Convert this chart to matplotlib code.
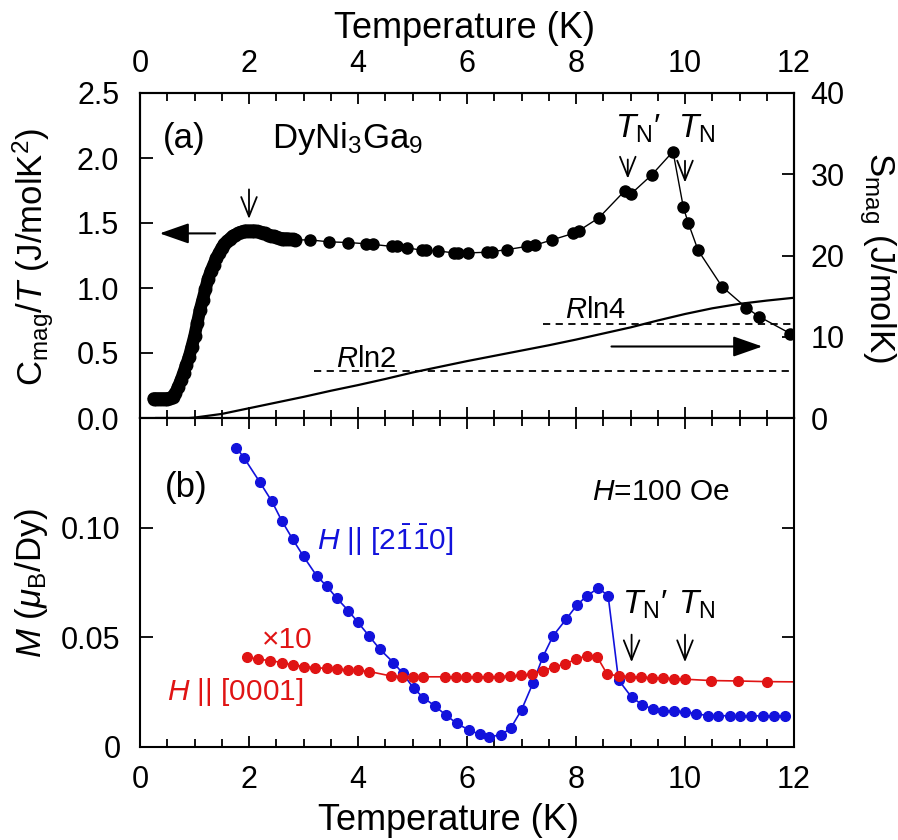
import matplotlib
matplotlib.use("Agg")
import matplotlib.pyplot as plt
import numpy as np

plt.rcParams['font.family'] = ['Liberation Sans', 'DejaVu Sans']
plt.rcParams['mathtext.fontset'] = 'custom'
plt.rcParams['mathtext.rm'] = 'Liberation Sans'
plt.rcParams['mathtext.it'] = 'Liberation Sans:italic'
plt.rcParams['mathtext.bf'] = 'Liberation Sans:bold'

# (a) C_mag/T, dense low-T part
t_dense = [0.25, 0.30, 0.35, 0.40, 0.45, 0.50, 0.55, 0.60, 0.65, 0.70, 0.75, 0.80,
           0.85, 0.90, 0.95, 1.00, 1.05, 1.10, 1.15, 1.20, 1.25, 1.30, 1.35, 1.40,
           1.45, 1.50, 1.55, 1.60, 1.65, 1.70, 1.75, 1.80, 1.85, 1.90, 1.95, 2.00,
           2.05, 2.10, 2.15, 2.20, 2.25, 2.30, 2.35, 2.40, 2.45, 2.50, 2.55, 2.60,
           2.65, 2.70, 2.75, 2.80, 2.85]
c_dense = [0.15, 0.15, 0.15, 0.15, 0.15, 0.15, 0.155, 0.165, 0.19, 0.24, 0.29, 0.35,
           0.41, 0.47, 0.55, 0.63, 0.73, 0.83, 0.91, 0.99, 1.07, 1.13, 1.18, 1.23,
           1.27, 1.31, 1.34, 1.36, 1.38, 1.40, 1.41, 1.42, 1.43, 1.435, 1.44, 1.44,
           1.44, 1.44, 1.435, 1.43, 1.425, 1.42, 1.41, 1.40, 1.40, 1.39, 1.385, 1.38,
           1.38, 1.38, 1.375, 1.375, 1.37]

# (a) C_mag/T, sparse part
t_sparse = [2.85, 3.12, 3.47, 3.82, 4.15, 4.28, 4.62, 4.72, 4.90, 5.17, 5.24, 5.47,
            5.76, 5.84, 6.02, 6.36, 6.46, 6.73, 7.10, 7.25, 7.56, 7.95, 8.05, 8.42,
            8.90, 9.00, 9.39, 9.78, 9.97, 10.06, 10.24, 10.68, 11.12, 11.36, 11.93]
c_sparse = [1.37, 1.37, 1.355, 1.35, 1.34, 1.335, 1.32, 1.32, 1.31, 1.29, 1.29, 1.285,
            1.27, 1.27, 1.27, 1.275, 1.28, 1.295, 1.32, 1.33, 1.37, 1.42, 1.44, 1.54,
            1.75, 1.72, 1.87, 2.05, 1.62, 1.50, 1.29, 1.01, 0.85, 0.78, 0.65]

# (a) S_mag
t_s = [0.3, 0.9, 1.0, 1.5, 2.0, 2.5, 3.0, 3.5, 4.0, 4.5, 5.0, 5.5, 6.0, 6.5, 7.0,
       7.5, 8.0, 8.5, 9.0, 9.5, 10.0, 10.5, 11.0, 11.5, 12.0]
s_mag = [0.0, 0.0, 0.05, 0.5, 1.2, 1.9, 2.6, 3.35, 4.05, 4.8, 5.6, 6.3, 7.0, 7.65,
         8.3, 8.95, 9.65, 10.4, 11.15, 12.0, 12.8, 13.5, 14.05, 14.45, 14.8]
R = 8.314

# (b) M, H || [2-1-10]
t_a = [1.77, 1.91, 2.20, 2.42, 2.60, 2.80, 3.00, 3.24, 3.43, 3.61, 3.82, 4.00, 4.21,
       4.40, 4.65, 4.82, 5.02, 5.20, 5.41, 5.61, 5.81, 6.03, 6.23, 6.41, 6.62, 6.80,
       7.00, 7.21, 7.39, 7.58, 7.82, 8.02, 8.20, 8.41, 8.59, 8.78, 9.02, 9.22, 9.42,
       9.60, 9.80, 10.00, 10.21, 10.43, 10.61, 10.83, 11.00, 11.22, 11.44, 11.63, 11.83]
m_a = [0.1364, 0.1318, 0.1207, 0.1120, 0.1032, 0.0948, 0.0869, 0.0781, 0.0732, 0.0679,
       0.0622, 0.0568, 0.0504, 0.0446, 0.0385, 0.0336, 0.0268, 0.0225, 0.0187, 0.0146,
       0.0108, 0.0078, 0.0058, 0.0047, 0.0055, 0.0085, 0.0169, 0.0291, 0.0410, 0.0507,
       0.0583, 0.0648, 0.0689, 0.0725, 0.0689, 0.0306, 0.0227, 0.0192, 0.0172, 0.0164,
       0.0164, 0.0161, 0.0151, 0.0143, 0.0143, 0.0142, 0.0142, 0.0142, 0.0142, 0.0142,
       0.0142]

# (b) M x10, H || [0001]
t_c = [1.97, 2.17, 2.39, 2.60, 2.80, 3.00, 3.21, 3.43, 3.61, 3.82, 4.00, 4.21, 4.60,
       4.80, 5.00, 5.20, 5.60, 5.80, 5.99, 6.18, 6.39, 6.59, 6.79, 6.99, 7.19, 7.39,
       7.59, 7.80, 8.00, 8.20, 8.39, 8.57, 8.78, 8.99, 9.19, 9.39, 9.59, 9.80, 10.00,
       10.47, 10.98, 11.50]
m_c = [0.0410, 0.0400, 0.0394, 0.0385, 0.0374, 0.0367, 0.0362, 0.0358, 0.0355, 0.0352,
       0.0349, 0.0344, 0.0324, 0.0321, 0.0320, 0.0320, 0.0320, 0.0320, 0.0320, 0.0320,
       0.0320, 0.0321, 0.0324, 0.0326, 0.0333, 0.0348, 0.0364, 0.0379, 0.0400, 0.0417,
       0.0410, 0.0333, 0.0324, 0.0321, 0.0318, 0.0316, 0.0314, 0.0312, 0.0309, 0.0303,
       0.0301, 0.0298]
m_c_end = 0.0297

blue = '#1212dc'
red = '#e01414'

W, H = 898, 840
fig = plt.figure(figsize=(W / 100, H / 100), dpi=100)
ax1 = fig.add_axes([140 / W, 1 - 418 / H, 654 / W, 325 / H])
ax2 = fig.add_axes([140 / W, 1 - 747 / H, 654 / W, 329 / H])
ax1r = ax1.twinx()

for ax in (ax1, ax2, ax1r):
    for sp in ax.spines.values():
        sp.set_linewidth(1.5)

# ---- panel (a)
ax1.plot(t_dense, c_dense, '-', color='k', lw=9, solid_capstyle='round')
ax1.plot(t_dense, c_dense, 'o', color='k', ms=9, mec='k')
ax1.plot(t_sparse, c_sparse, '-', color='k', lw=1)
ax1.plot(t_sparse, c_sparse, 'o', color='k', ms=8)
ax1r.plot(t_s, s_mag, '-', color='k', lw=1.6)
ax1r.plot([3.2, 12], [R * np.log(2)] * 2, '--', color='k', lw=1.3, dashes=(4, 3))
ax1r.plot([7.4, 12], [R * np.log(4)] * 2, '--', color='k', lw=1.3, dashes=(4, 3))

ax1.set_xlim(0, 12)
ax1.set_ylim(0, 2.5)
ax1r.set_ylim(0, 40)
ax1.set_xticks(np.arange(0, 13, 2))
ax1.set_xticks(np.arange(0, 12.01, 0.5), minor=True)
ax1.set_yticks(np.arange(0, 2.51, 0.5))
ax1.set_yticklabels(['0.0', '0.5', '1.0', '1.5', '2.0', '2.5'])
ax1r.set_yticks([0, 10, 20, 30, 40])
ax1.tick_params(axis='x', which='both', direction='in', top=True, bottom=True,
                labeltop=True, labelbottom=False, labelsize=22, pad=10)
ax1.tick_params(axis='x', which='major', length=8, width=1.3)
ax1.tick_params(axis='x', which='minor', length=6, width=1.3)
ax1.tick_params(axis='y', direction='in', length=9, width=1.3, labelsize=22, pad=15)
ax1r.tick_params(axis='y', direction='in', length=9, width=1.3, labelsize=22, pad=12)

ax1.annotate('', xy=(0.31, 1.42), xytext=(1.43, 1.42),
             arrowprops=dict(arrowstyle='-|>,head_length=1.0,head_width=0.35',
                             color='k', lw=1.5, mutation_scale=18))
ax1.annotate('', xy=(11.47, 0.55), xytext=(8.6, 0.55),
             arrowprops=dict(arrowstyle='-|>,head_length=1.0,head_width=0.35',
                             color='k', lw=1.5, mutation_scale=18))
for xa, y0, y1 in [(2.0, 1.78, 1.51), (8.95, 2.01, 1.82), (10.0, 2.0, 1.79)]:
    ax1.annotate('', xy=(xa, y1), xytext=(xa, y0),
                 arrowprops=dict(arrowstyle='->,head_length=0.7,head_width=0.28',
                                 color='k', lw=1.3, mutation_scale=20))

ax1.text(0.42, 2.08, '(a)', fontsize=25, va='baseline')
ax1.text(2.42, 2.08, 'DyNi$_3$Ga$_9$', fontsize=25, va='baseline')
ax1.text(3.6, 0.39, '$R$ln2', fontsize=21, va='baseline')
ax1.text(7.8, 0.77, '$R$ln4', fontsize=21, va='baseline')
ax1.text(8.72, 2.16, r'$T_{\rm N}$′', fontsize=24, va='baseline')
ax1.text(9.88, 2.16, r'$T_{\rm N}$', fontsize=24, va='baseline')

# ---- panel (b)
ax2.plot(t_a, m_a, '-o', color=blue, ms=7, lw=1.2)
ax2.plot(t_c, m_c, '-o', color=red, ms=7, lw=1.2)
ax2.plot([t_c[-1], 12], [m_c[-1], m_c_end], '-', color=red, lw=1.2)

ax2.set_xlim(0, 12)
ax2.set_ylim(0, 0.15)
ax2.set_xticks(np.arange(0, 13, 2))
ax2.set_xticks(np.arange(0, 12.01, 0.5), minor=True)
ax2.set_yticks([0, 0.05, 0.10])
ax2.set_yticklabels(['0', '0.05', '0.10'])
ax2.tick_params(axis='x', which='both', direction='in', top=True, bottom=True,
                labelsize=22, pad=13)
ax2.tick_params(axis='x', which='major', length=8, width=1.3)
ax2.tick_params(axis='x', which='minor', length=6, width=1.3)
ax2.tick_params(axis='y', direction='in', right=True, length=9, width=1.3,
                labelsize=22, pad=14)

for xa in (9.02, 10.0):
    ax2.annotate('', xy=(xa, 0.0374), xytext=(xa, 0.0525),
                 arrowprops=dict(arrowstyle='->,head_length=0.7,head_width=0.28',
                                 color='k', lw=1.3, mutation_scale=20))

ax2.text(0.46, 0.114, '(b)', fontsize=25, va='baseline')
ax2.text(3.25, 0.090, r'$H$ || [2$\bar{1}\bar{1}$0]', fontsize=21.5,
         color=blue, va='baseline')
ax2.text(2.24, 0.0452, '×10', fontsize=21.5, color=red, va='baseline')
ax2.text(0.49, 0.0215, r'$H$ || [0001]', fontsize=21.5, color=red, va='baseline')
ax2.text(8.3, 0.1128, r'$H$=100 Oe', fontsize=21.5, va='baseline')
ax2.text(8.85, 0.061, r'$T_{\rm N}$′', fontsize=24, va='baseline')
ax2.text(9.88, 0.061, r'$T_{\rm N}$', fontsize=24, va='baseline')

# ---- axis labels
fig.text(465 / W, 1 - 29 / H, 'Temperature (K)', fontsize=26, ha='center', va='center')
fig.text(448 / W, 1 - 821 / H, 'Temperature (K)', fontsize=26, ha='center', va='center')
fig.text(33 / W, 1 - 257 / H, r'C$_{\rm mag}$/$T$ (J/molK$^2$)', fontsize=25,
         rotation=90, ha='center', va='center')
fig.text(32 / W, 1 - 583 / H, r'$M$ ($\mu_{\rm B}$/Dy)', fontsize=25,
         rotation=90, ha='center', va='center')
fig.text(877 / W, 1 - 257 / H, r'S$_{\rm mag}$ (J/molK)', fontsize=25,
         rotation=270, ha='center', va='center')

fig.savefig('out.png', dpi=100)
